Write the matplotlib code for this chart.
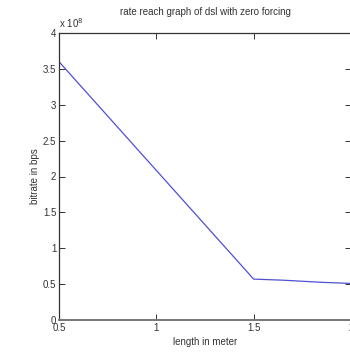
import matplotlib
matplotlib.use("Agg")
import matplotlib.pyplot as plt
from matplotlib.ticker import FuncFormatter

# length (m) vs bitrate (bps)
length_m = [0.5, 1.5, 1.65, 1.75, 1.85, 2.0]
bitrate_bps = [3.6e8, 0.57e8, 0.555e8, 0.54e8, 0.525e8, 0.51e8]
x_ticks = [0.5, 1, 1.5, 2]
y_ticks = [0, 0.5e8, 1e8, 1.5e8, 2e8, 2.5e8, 3e8, 3.5e8, 4e8]

plt.rcParams["font.family"] = ["Liberation Sans Narrow", "Liberation Sans", "DejaVu Sans"]

W, H = 350, 354
fig = plt.figure(figsize=(W / 100, H / 100), dpi=100)
fig.patch.set_facecolor("white")
ax = fig.add_axes([59 / W, (H - 320) / H, 292 / W, 287 / H])

ax.plot(length_m, bitrate_bps, color="#5050d4", linewidth=0.9)

ax.set_xlim(0.5, 2)
ax.set_ylim(0, 4e8)
ax.set_xticks(x_ticks)
ax.set_xticklabels(["0.5", "1", "1.5", "2"])
ax.set_yticks(y_ticks)
ax.yaxis.set_major_formatter(FuncFormatter(lambda v, p: f"{v / 1e8:g}"))
ax.tick_params(direction="in", length=4, width=0.7, labelsize=7, pad=2,
               colors="#333333", top=True, right=True)
for s in ax.spines.values():
    s.set_linewidth(0.9)
    s.set_color("#333333")
ax.spines["bottom"].set_color("#777777")
ax.spines["bottom"].set_linewidth(1.4)

ax.set_title("rate reach graph of dsl with zero forcing", fontsize=7, color="#333333", pad=13)
ax.set_xlabel("length in meter", fontsize=7, color="#333333", labelpad=3)
ax.set_ylabel("bitrate in bps", fontsize=7, color="#333333", labelpad=2)
ax.text(0.0, 1.012, r"x 10$^8$", transform=ax.transAxes, fontsize=7, color="#333333",
        ha="left", va="bottom")

fig.savefig("out.png", dpi=100)
